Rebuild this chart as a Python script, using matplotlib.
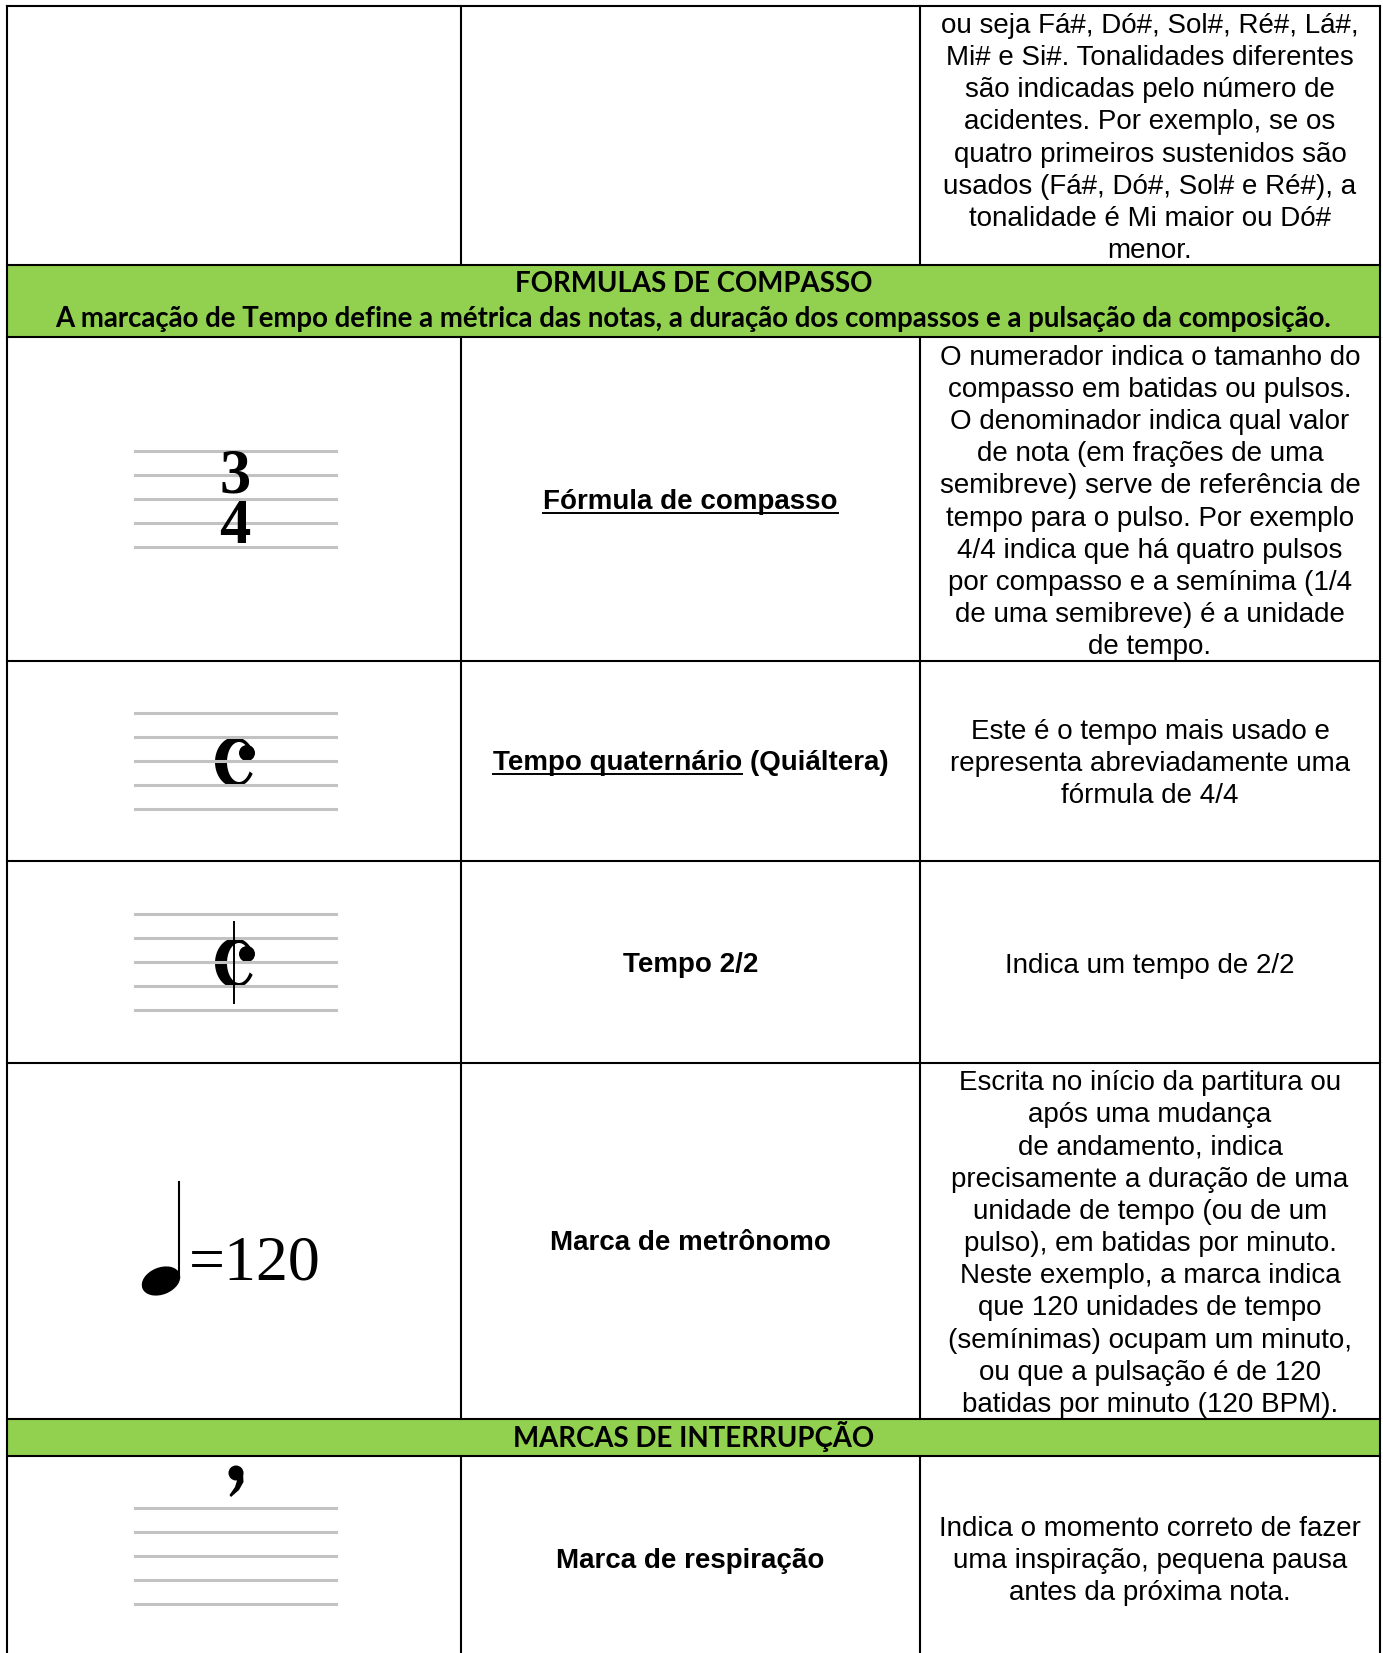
import matplotlib
matplotlib.use("Agg")
import matplotlib.pyplot as plt
from matplotlib.patches import Rectangle, Ellipse, Polygon, Circle
import numpy as np

# ---------------- table content ----------------
top_text = ["ou seja Fá#, Dó#, Sol#, Ré#, Lá#,",
            "Mi# e Si#. Tonalidades diferentes",
            "são indicadas pelo número de",
            "acidentes. Por exemplo, se os",
            "quatro primeiros sustenidos são",
            "usados (Fá#, Dó#, Sol# e Ré#), a",
            "tonalidade é Mi maior ou Dó#",
            "menor."]

header_1 = ["FORMULAS DE COMPASSO",
            "A marcação de Tempo define a métrica das notas, a duração dos compassos e a pulsação da composição."]
header_2 = ["MARCAS DE INTERRUPÇÃO"]

labels = ["Fórmula de compasso", "Tempo quaternário (Quiáltera)", "Tempo 2/2",
          "Marca de metrônomo", "Marca de respiração"]
underlined = ["Fórmula de compasso", "Tempo quaternário", "", "", ""]

descriptions = [
    ["O numerador indica o tamanho do",
     "compasso em batidas ou pulsos.",
     "O denominador indica qual valor",
     "de nota (em frações de uma",
     "semibreve) serve de referência de",
     "tempo para o pulso. Por exemplo",
     "4/4 indica que há quatro pulsos",
     "por compasso e a semínima (1/4",
     "de uma semibreve) é a unidade",
     "de tempo."],
    ["Este é o tempo mais usado e",
     "representa abreviadamente uma",
     "fórmula de 4/4"],
    ["Indica um tempo de 2/2"],
    ["Escrita no início da partitura ou",
     "após uma mudança",
     "de andamento, indica",
     "precisamente a duração de uma",
     "unidade de tempo (ou de um",
     "pulso), em batidas por minuto.",
     "Neste exemplo, a marca indica",
     "que 120 unidades de tempo",
     "(semínimas) ocupam um minuto,",
     "ou que a pulsação é de 120",
     "batidas por minuto (120 BPM)."],
    ["Indica o momento correto de fazer",
     "uma inspiração, pequena pausa",
     "antes da próxima nota."],
]

time_sig = ["3", "4"]
metronome = "=120"

# ---------------- layout (pixels) ----------------
W, H = 1383, 1653
xs = [7, 461, 920, 1380]
y_top = 6
hdr1 = (265, 337)
row_edges = [337, 661, 861, 1063, 1419]
hdr2 = (1419, 1456)
green = "#92D050"
pitch = 32.2

fig = plt.figure(figsize=(W / 100, H / 100), dpi=100)
ax = fig.add_axes([0, 0, 1, 1])
ax.set_xlim(0, W)
ax.set_ylim(H, 0)
ax.axis("off")

lw = 1.5
# green header bands
for a, b in [hdr1, hdr2]:
    ax.add_patch(Rectangle((xs[0], a), xs[-1] - xs[0], b - a, fc=green, ec="none"))

# horizontal borders
for y in [y_top, hdr1[0], hdr1[1]] + row_edges[1:] + [hdr2[1]]:
    ax.plot([xs[0], xs[-1]], [y, y], color="black", lw=lw, solid_capstyle="projecting")
# outer vertical borders
for x in [xs[0], xs[-1]]:
    ax.plot([x, x], [y_top, H], color="black", lw=lw)
# inner vertical borders (not through the green bands)
for x in xs[1:3]:
    for a, b in [(y_top, hdr1[0]), (hdr1[1], hdr2[0]), (hdr2[1], H)]:
        ax.plot([x, x], [a, b], color="black", lw=lw)

cx_mid = (xs[1] + xs[2]) / 2
cx_right = (xs[2] + xs[3]) / 2
body = dict(family="Liberation Sans", fontsize=20, ha="center", va="baseline")


def lines_block(lines, x, yc):
    n = len(lines)
    for i, s in enumerate(lines):
        y = yc + (i - (n - 1) / 2) * pitch
        ax.text(x, y + 10, s, **body)


# top row description
lines_block(top_text, cx_right, 135.5)

# headers
hfont = dict(family="Lato", fontweight="bold", fontsize=19.9, ha="center", va="baseline")
ax.text((xs[0] + xs[-1]) / 2, 283.5 + 9, header_1[0], **hfont)
ax.text((xs[0] + xs[-1]) / 2, 318.5 + 9, header_1[1], **hfont)
ax.text((xs[0] + xs[-1]) / 2, 1437.5 + 9, header_2[0], **hfont)

# rows
row_centers = [499.5, 761, 963, 1241, 1558]
label_texts = []
for lab, desc, yc in zip(labels, descriptions, row_centers):
    t = ax.text(cx_mid, yc + 9.5, lab, family="Liberation Sans", fontweight="bold",
                fontsize=20, ha="center", va="baseline")
    label_texts.append(t)
    lines_block(desc, cx_right, yc)

# staff lines
staff_col = "#c2c2c2"
for top in [451, 713, 914, 1508]:
    for k in range(5):
        ax.plot([135, 336], [top + 24 * k] * 2, color=staff_col, lw=2.2)

# 3/4 time signature
ax.text(235, 503, "\n".join(time_sig), family="Liberation Serif", fontweight="bold",
        fontsize=45, ha="center", va="center", multialignment="center", linespacing=0.84)


def draw_c(cx, cy):
    th = np.radians(np.linspace(28, 332, 90))
    outer = np.c_[cx + 20 * np.cos(th), cy - 25 * np.sin(th)]
    inner = np.c_[cx + 4 + 12 * np.cos(th[::-1]), cy - 20 * np.sin(th[::-1])]
    ax.add_patch(Polygon(np.vstack([outer, inner]), closed=True, fc="black", ec="none"))
    ax.add_patch(Circle((cx + 12, cy - 9), 8, fc="black", ec="none"))


draw_c(235, 762)
draw_c(235, 963)
ax.plot([234, 234], [922, 1003], color="black", lw=1.4)

# metronome mark
ax.add_patch(Ellipse((161, 1281), 40, 27, angle=-22, fc="black", ec="none"))
ax.plot([178.5, 178.5], [1182, 1278], color="black", lw=1.5)
ax.text(189, 1280, metronome, family="Liberation Serif", fontsize=46, ha="left", va="baseline")

# breath mark
ax.add_patch(Circle((236, 1473), 7.5, fc="black", ec="none"))
ax.add_patch(Polygon([(243, 1472), (243.5, 1482), (239, 1490), (231, 1497), (229.5, 1495),
                      (235, 1487), (237.5, 1479), (236, 1475)], closed=True, fc="black", ec="none"))

# underlines for the labels
fig.canvas.draw()
r = fig.canvas.get_renderer()
inv = ax.transData.inverted()
for t, u, yc in zip(label_texts, underlined, row_centers):
    if not u:
        continue
    bb = t.get_window_extent(r)
    tmp = ax.text(0, 0, u, family="Liberation Sans", fontweight="bold", fontsize=20)
    wb = tmp.get_window_extent(r)
    tmp.remove()
    x0 = inv.transform((bb.x0, bb.y0))[0]
    x1 = x0 + (wb.x1 - wb.x0)
    ax.plot([x0, x1], [yc + 13, yc + 13], color="black", lw=1.4)

fig.savefig("out.png", dpi=100, facecolor="white")
